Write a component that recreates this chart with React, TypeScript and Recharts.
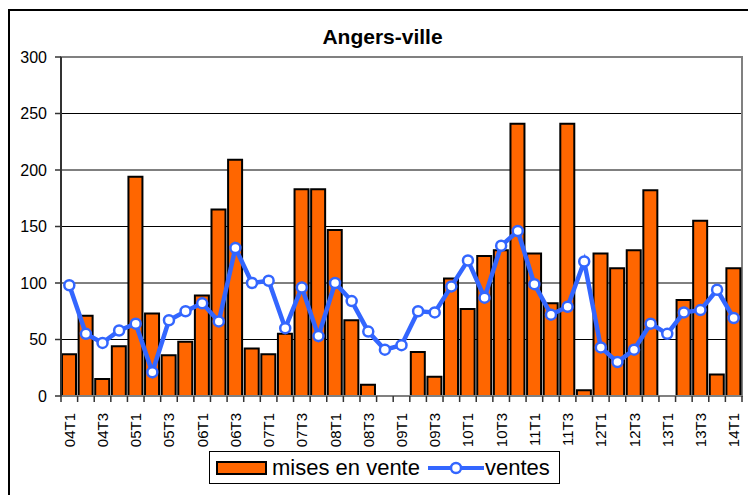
import React from "react";
import {
  Bar,
  CartesianGrid,
  ComposedChart,
  Legend,
  Line,
  ReferenceArea,
  XAxis,
  YAxis,
} from "recharts";

const quarters = [
  "04T1", "04T2", "04T3", "04T4",
  "05T1", "05T2", "05T3", "05T4",
  "06T1", "06T2", "06T3", "06T4",
  "07T1", "07T2", "07T3", "07T4",
  "08T1", "08T2", "08T3", "08T4",
  "09T1", "09T2", "09T3", "09T4",
  "10T1", "10T2", "10T3", "10T4",
  "11T1", "11T2", "11T3", "11T4",
  "12T1", "12T2", "12T3", "12T4",
  "13T1", "13T2", "13T3", "13T4",
  "14T1",
];

const misesEnVente = [
  37, 71, 15, 44, 194, 73, 36, 48, 89, 165, 209, 42, 37, 55, 183, 183, 147, 67, 10, 0, 0,
  39, 17, 104, 77, 124, 129, 241, 126, 82, 241, 5, 126, 113, 129, 182, 0, 85, 155, 19, 113,
];

const ventes = [
  98, 55, 47, 58, 64, 21, 67, 75, 82, 66, 131, 100, 102, 60, 96, 53, 100, 84, 57, 41, 45,
  75, 74, 97, 120, 87, 133, 146, 99, 72, 79, 119, 43, 30, 41, 64, 55, 74, 76, 94, 69,
];

const yTicks = [0, 50, 100, 150, 200, 250, 300];

const data = quarters.map((q, i) => ({
  quarter: q,
  mises: misesEnVente[i],
  ventes: ventes[i],
}));

const WIDTH = 748;
const HEIGHT = 495;
const MARGIN = { top: 57, right: 6, left: 11, bottom: 39 };
const Y_AXIS_W = 50;
const PLOT_W = WIDTH - MARGIN.left - MARGIN.right - Y_AXIS_W;
const BAND = PLOT_W / quarters.length;

const FONT = "'Liberation Sans', Arial, Helvetica, sans-serif";
const ORANGE = "#FF6600";
const BLUE = "#3366FF";

// Excel-style category axis: tick marks between categories, every other label
const XTick = (props: any) => {
  const { x, y, payload, index } = props;
  const left = x - BAND / 2;
  const ty = y + 17;
  return (
    <g>
      <line x1={left} y1={y} x2={left} y2={y + 6} stroke="#333" strokeWidth={1.5} />
      {index === quarters.length - 1 && (
        <line x1={x + BAND / 2} y1={y} x2={x + BAND / 2} y2={y + 6} stroke="#333" strokeWidth={1.5} />
      )}
      {index % 2 === 0 && (
        <text
          x={x}
          y={ty}
          transform={`rotate(-90, ${x}, ${ty})`}
          textAnchor="end"
          dominantBaseline="central"
          fontSize={15}
          fill="#000"
          fontFamily={FONT}
        >
          {payload.value}
        </text>
      )}
    </g>
  );
};

const renderLegend = () => (
  <div
    style={{
      width: 351,
      height: 33,
      boxSizing: "border-box",
      border: "1px solid #000",
      background: "#fff",
      display: "flex",
      alignItems: "center",
      fontFamily: FONT,
      fontSize: 22,
      color: "#000",
      whiteSpace: "nowrap",
    }}
  >
    <span
      style={{
        display: "inline-block",
        width: 51,
        height: 14,
        boxSizing: "border-box",
        background: ORANGE,
        border: "2px solid #000",
        marginLeft: 6,
        marginRight: 5,
      }}
    />
    <span>mises en vente</span>
    <svg width={57} height={14} style={{ marginLeft: 8 }}>
      <line x1={0} y1={7} x2={56} y2={7} stroke={BLUE} strokeWidth={4} />
      <circle cx={28} cy={7} r={5} fill="#fff" stroke={BLUE} strokeWidth={2.5} />
    </svg>
    <span>ventes</span>
  </div>
);

export default function App() {
  return (
    <div
      style={{
        position: "absolute",
        left: 0,
        top: 0,
        width: WIDTH,
        height: HEIGHT,
        overflow: "hidden",
        background: "#fff",
      }}
    >
      <div
        style={{
          position: "absolute",
          left: 8,
          top: 9,
          width: 900,
          height: 700,
          borderLeft: "2px solid #000",
          borderTop: "2px solid #000",
        }}
      />
      <div
        style={{
          position: "absolute",
          left: 0,
          top: 27,
          width: 765,
          textAlign: "center",
          fontFamily: FONT,
          fontWeight: "bold",
          fontSize: 21,
          lineHeight: "20px",
          color: "#000",
        }}
      >
        Angers-ville
      </div>
      <ComposedChart
        width={WIDTH}
        height={HEIGHT}
        data={data}
        margin={MARGIN}
        barCategoryGap={0}
        style={{ position: "absolute", left: 0, top: 0, fontFamily: FONT }}
      >
        <CartesianGrid vertical={false} stroke="#000" strokeWidth={1} />
        <XAxis
          dataKey="quarter"
          interval={0}
          height={60}
          tickSize={0}
          tickMargin={0}
          tickLine={false}
          axisLine={{ stroke: "#808080", strokeWidth: 2 }}
          tick={<XTick />}
        />
        <YAxis
          domain={[0, 300]}
          ticks={yTicks}
          width={Y_AXIS_W}
          tickSize={6}
          tickMargin={8}
          axisLine={{ stroke: "#333", strokeWidth: 2 }}
          tickLine={{ stroke: "#333", strokeWidth: 1.5 }}
          tick={{ fill: "#000", fontSize: 16, fontFamily: FONT }}
        />
        <Bar
          dataKey="mises"
          name="mises en vente"
          fill={ORANGE}
          stroke="#000"
          strokeWidth={2}
          barSize={14}
          isAnimationActive={false}
        />
        <ReferenceArea
          x1="04T1"
          x2="14T1"
          y1={0}
          y2={300}
          fill="none"
          fillOpacity={0}
          stroke="#808080"
          strokeWidth={2}
        />
        <Line
          type="linear"
          dataKey="ventes"
          name="ventes"
          stroke={BLUE}
          strokeWidth={4.5}
          dot={{ r: 5, fill: "#fff", stroke: BLUE, strokeWidth: 2.5 }}
          isAnimationActive={false}
        />
        <Legend
          layout="horizontal"
          verticalAlign="middle"
          align="center"
          content={renderLegend}
          wrapperStyle={{ left: 209, top: 451, width: 351, height: 33 }}
        />
      </ComposedChart>
    </div>
  );
}
